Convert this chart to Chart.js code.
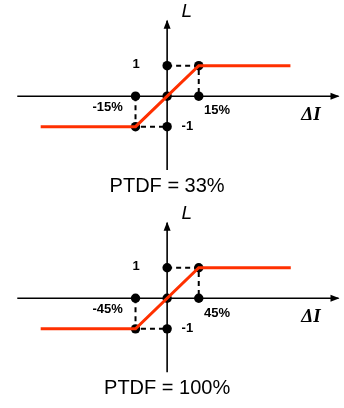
<!DOCTYPE html>
<html>
<head>
<meta charset="utf-8">
<script src="https://cdn.jsdelivr.net/npm/chart.js@4/dist/chart.umd.min.js"></script>
<style>
  html, body { margin: 0; padding: 0; background: #ffffff; }
  #wrap { position: relative; width: 344px; height: 408px; }
  canvas { position: absolute; left: 0; }
</style>
</head>
<body>
<div id="wrap">
  <canvas id="c1" width="344" height="200" style="top:0px"></canvas>
  <canvas id="c2" width="344" height="208" style="top:200px"></canvas>
</div>
<script>
// ---- data ----
const panelTitles = ['PTDF = 33%', 'PTDF = 100%'];
const breakPoints = [15, 45];                 // % change where L saturates
const saturation = [-1, 1];                   // L limits
const redLeftEnd = [-60, -180];               // left end of flat segment (%)
const redRightEnd = [58.5, 176];              // right end of flat segment (%)
const negTickLabels = ['-15%', '-45%'];
const posTickLabels = ['15%', '45%'];
const yTickLabels = ['1', '-1'];
const xAxisLabel = 'ΔI';
const yAxisLabel = 'L';

const RED = '#ff3000';
const BLACK = '#000000';

function buildPanel(canvasId, idx, yMax, yMin) {
  const b = breakPoints[idx];
  const lo = saturation[0], hi = saturation[1];
  const redX = [redLeftEnd[idx], -b, b, redRightEnd[idx]];
  const redY = [lo, lo, hi, hi];
  const dotsX = [0, 0, 0, -b, b, -b, b];
  const dotsY = [hi, 0, lo, 0, 0, lo, hi];
  const dash1X = [-b, -b, 0], dash1Y = [0, lo, lo];
  const dash2X = [0, b, b],   dash2Y = [hi, hi, 0];
  const hAxisX = [-4.74 * b, 5.42 * b], hAxisY = [0, 0];
  const vAxisX = [0, 0], vAxisY = [-2.42, 2.47];

  const pts = (xs, ys) => xs.map((x, i) => ({ x: x, y: ys[i] }));
  const tickFont = 'bold 13px "Liberation Sans", Arial, sans-serif';

  const labels = [
    { t: yTickLabels[0], x: -0.98 * b, y: 1.03, f: tickFont },
    { t: yTickLabels[1], x: 0.64 * b, y: -0.98, f: tickFont },
    { t: negTickLabels[idx], x: -1.88 * b, y: -0.36, f: tickFont },
    { t: posTickLabels[idx], x: 1.58 * b, y: -0.48, f: tickFont },
    { t: xAxisLabel, x: 4.55 * b, y: -0.62, f: 'italic bold 19px "Liberation Serif", "Times New Roman", serif' },
    { t: yAxisLabel, x: 0.62 * b, y: 2.78, f: 'italic 19px "Liberation Sans", Arial, sans-serif' },
    { t: panelTitles[idx], x: 0, y: -2.96, f: '20px "Liberation Sans", Arial, sans-serif' }
  ];

  const decor = {
    id: 'decor' + idx,
    afterDatasetsDraw(chart) {
      const ctx = chart.ctx;
      const xs = chart.scales.x, ys = chart.scales.y;
      ctx.save();
      ctx.fillStyle = BLACK;
      // arrow heads
      const hx = xs.getPixelForValue(hAxisX[1]), hy = ys.getPixelForValue(0);
      ctx.beginPath();
      ctx.moveTo(hx + 1, hy);
      ctx.lineTo(hx - 8, hy - 3.5);
      ctx.lineTo(hx - 8, hy + 3.5);
      ctx.closePath();
      ctx.fill();
      const vx = xs.getPixelForValue(0), vy = ys.getPixelForValue(vAxisY[1]);
      ctx.beginPath();
      ctx.moveTo(vx, vy - 1);
      ctx.lineTo(vx - 3.5, vy + 8);
      ctx.lineTo(vx + 3.5, vy + 8);
      ctx.closePath();
      ctx.fill();
      // text
      ctx.textAlign = 'center';
      ctx.textBaseline = 'middle';
      labels.forEach(l => {
        ctx.font = l.f;
        ctx.fillText(l.t, xs.getPixelForValue(l.x), ys.getPixelForValue(l.y));
      });
      ctx.restore();
    }
  };

  new Chart(document.getElementById(canvasId), {
    type: 'scatter',
    data: {
      datasets: [
        { data: pts(hAxisX, hAxisY), showLine: true, borderColor: BLACK, borderWidth: 1.6, pointRadius: 0, order: 5 },
        { data: pts(vAxisX, vAxisY), showLine: true, borderColor: BLACK, borderWidth: 1.6, pointRadius: 0, order: 5 },
        { data: pts(dash1X, dash1Y), showLine: true, borderColor: BLACK, borderWidth: 2, borderDash: [5, 4], pointRadius: 0, order: 4 },
        { data: pts(dash2X, dash2Y), showLine: true, borderColor: BLACK, borderWidth: 2, borderDash: [5, 4], pointRadius: 0, order: 4 },
        { data: pts(dotsX, dotsY), showLine: false, pointRadius: 4.7, pointBackgroundColor: BLACK, pointBorderWidth: 0, order: 3 },
        { data: pts(redX, redY), showLine: true, borderColor: RED, borderWidth: 3, pointRadius: 0, order: 1 }
      ]
    },
    options: {
      responsive: false,
      animation: false,
      layout: { padding: 0 },
      plugins: { legend: { display: false }, tooltip: { enabled: false } },
      scales: {
        x: { type: 'linear', display: false, min: -5.138 * b, max: 5.446 * b },
        y: { type: 'linear', display: false, min: yMin, max: yMax }
      }
    },
    plugins: [decor]
  });
}

buildPanel('c1', 0, 3.0, -3.25);
buildPanel('c2', 1, 3.0625, -3.4375);
</script>
</body>
</html>
